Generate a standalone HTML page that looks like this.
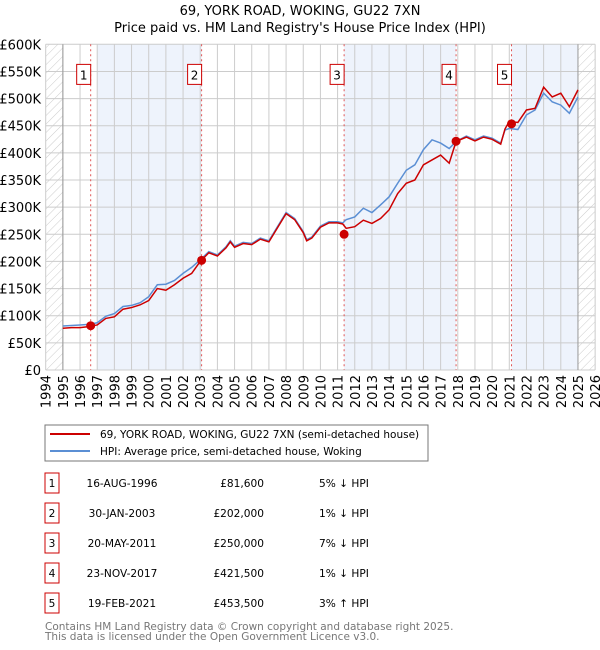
<!DOCTYPE html>
<html><head><meta charset="utf-8">
<style>
body{margin:0;background:#fff;}
svg{display:block;font-family:"DejaVu Sans","Liberation Sans",sans-serif;}
</style></head>
<body>
<svg id="chart" width="600" height="650" viewBox="0 0 600 650">
<defs>
<pattern id="hatch" patternUnits="userSpaceOnUse" width="6" height="6" patternTransform="rotate(45)">
<line x1="0" y1="0" x2="0" y2="6" stroke="#ccc" stroke-width="1"/>
</pattern>
</defs>
<text x="300" y="15" text-anchor="middle" font-size="13">69, YORK ROAD, WOKING, GU22 7XN</text>
<text x="300" y="32" text-anchor="middle" font-size="13">Price paid vs. HM Land Registry's House Price Index (HPI)</text>
<g id="plot"></g>
<rect x="45" y="425" width="383" height="36" fill="#fff" stroke="#777"/>
<line x1="50" y1="434" x2="90" y2="434" stroke="#cc0000" stroke-width="2"/>
<text x="100" y="438" font-size="10.5">69, YORK ROAD, WOKING, GU22 7XN (semi-detached house)</text>
<line x1="50" y1="451" x2="90" y2="451" stroke="#5b8fd4" stroke-width="2"/>
<text x="100" y="455" font-size="10.5">HPI: Average price, semi-detached house, Woking</text>
<g id="table" font-size="10.6"></g>
<text x="45" y="630" font-size="10.5" fill="#777">Contains HM Land Registry data © Crown copyright and database right 2025.</text>
<text x="45" y="640" font-size="10.5" fill="#777">This data is licensed under the Open Government Licence v3.0.</text>
</svg>
<script>
const years = [1995,1995.5,1996,1996.5,1997,1997.5,1998,1998.5,1999,1999.5,2000,2000.5,2001,2001.5,2002,2002.5,2003,2003.5,2004,2004.5,2004.75,2005,2005.5,2006,2006.5,2007,2007.5,2008,2008.5,2009,2009.2,2009.5,2010,2010.5,2011,2011.3,2011.5,2012,2012.5,2013,2013.5,2014,2014.5,2015,2015.5,2016,2016.5,2017,2017.5,2017.9,2018.5,2019,2019.5,2020,2020.5,2020.75,2021,2021.5,2022,2022.5,2023,2023.5,2024,2024.5,2025];
const hpiValues = [81,82,83,84,87,99,104,117,119,124,135,157,158,165,178,189,203,218,212,227,238,228,235,233,243,238,264,290,279,255,240,245,265,273,273,271,277,282,298,290,304,319,344,368,378,406,424,418,408,421,431,424,431,427,418,442,445,443,470,479,510,494,488,473,503];
const priceValues = [77,78,78,80,83,95,98,112,115,120,128,150,147,157,169,178,200,216,210,225,236,226,233,231,241,236,262,288,277,253,238,243,263,271,271,269,261,264,276,270,279,295,325,344,350,378,387,396,381,421,429,422,429,425,416,444,458,456,479,482,521,503,510,485,516];
const saleLabels = ["1","2","3","4","5"];
const saleYears = [1996.62,2003.08,2011.38,2017.9,2021.13];
const salePrices = [81.6,202,250,421.5,453.5];
const saleDates = ["16-AUG-1996","30-JAN-2003","20-MAY-2011","23-NOV-2017","19-FEB-2021"];
const salePriceText = ["£81,600","£202,000","£250,000","£421,500","£453,500"];
const saleHpiText = ["5% ↓ HPI","1% ↓ HPI","7% ↓ HPI","1% ↓ HPI","3% ↑ HPI"];
const yTicks = [0,50,100,150,200,250,300,350,400,450,500,550,600];
const yTickLabels = ["£0","£50K","£100K","£150K","£200K","£250K","£300K","£350K","£400K","£450K","£500K","£550K","£600K"];
const xTicks = [1994,1995,1996,1997,1998,1999,2000,2001,2002,2003,2004,2005,2006,2007,2008,2009,2010,2011,2012,2013,2014,2015,2016,2017,2018,2019,2020,2021,2022,2023,2024,2025,2026];

const NS="http://www.w3.org/2000/svg";
const X0=45.7, PX=17.17, Y0=370, PY=325.7/600;
const x = y => X0+(y-1994)*PX;
const y = v => Y0-v*PY;
const plot=document.getElementById('plot');
function mk(tag,attrs,parent){const e=document.createElementNS(NS,tag);for(const k in attrs)e.setAttribute(k,attrs[k]);(parent||plot).appendChild(e);return e;}

const shades=[[1997,2003.08],[2011.38,2017.9],[2021.13,2025]];
shades.forEach(s=>{const r=mk('rect',{x:x(s[0]),y:y(600),width:x(s[1])-x(s[0]),height:y(0)-y(600),fill:'#eef3fc'});

});
const h1=mk('rect',{x:x(1994),y:y(600),width:x(1995)-x(1994),height:y(0)-y(600),fill:'url(#hatch)'});


const h2=mk('rect',{x:x(2025),y:y(600),width:x(2026)-x(2025),height:y(0)-y(600),fill:'url(#hatch)'});



yTicks.forEach((t,i)=>{
 const l=mk('line',{x1:x(1994),x2:x(2026),y1:y(t),y2:y(t),stroke:'#ccc','stroke-width':1});
 
 
 const tx=mk('text',{x:41,y:y(t)+5,'text-anchor':'end','font-size':13});
 tx.textContent=yTickLabels[i];
 
 
});
xTicks.forEach(t=>{
 const l=mk('line',{x1:x(t),x2:x(t),y1:y(600),y2:y(0),stroke:'#ccc','stroke-width':1});
 
 
 const tx=mk('text',{x:0,y:0,'text-anchor':'end','font-size':13,transform:`translate(${x(t)+5},375) rotate(-90)`});
 tx.textContent=t;
 
 
});
const ax1=mk('line',{x1:x(1995),x2:x(1995),y1:y(600),y2:y(0),stroke:'#999'});


const ax2=mk('line',{x1:x(2025),x2:x(2025),y1:y(600),y2:y(0),stroke:'#999'});



saleYears.forEach((s,i)=>{
 const l=mk('line',{x1:x(s),x2:x(s),y1:y(600),y2:y(0),stroke:'#e05555','stroke-dasharray':'2,3','stroke-width':1});
 
 
 const b=mk('rect',{x:x(s)-14,y:y(563),width:14,height:20,fill:'#fff',stroke:'#cc0000'});
 
 
 const t=mk('text',{x:x(s)-7,y:y(563)+15,'text-anchor':'middle','font-size':12});
 t.textContent=saleLabels[i];
 
 
});

const hp=mk('polyline',{points:years.map((t,i)=>x(t)+','+y(hpiValues[i])).join(' '),fill:'none',stroke:'#5b8fd4','stroke-width':1.5});


const pp=mk('polyline',{points:years.map((t,i)=>x(t)+','+y(priceValues[i])).join(' '),fill:'none',stroke:'#cc0000','stroke-width':1.5});


saleYears.forEach((s,i)=>{
 const c=mk('circle',{cx:x(s),cy:y(salePrices[i]),r:4.5,fill:'#cc0000'});
 
 
});

const tbl=document.getElementById('table');
saleLabels.forEach((lab,i)=>{
 const cy=483+i*30;
 const b=mk('rect',{x:45,y:cy-10,width:14,height:20,fill:'#fff',stroke:'#cc0000'},tbl);
 
 
 const n=mk('text',{x:52,y:cy+4,'text-anchor':'middle'},tbl);n.textContent=lab;
 
 
 const d=mk('text',{x:122,y:cy+4,'text-anchor':'middle'},tbl);d.textContent=saleDates[i];
 
 
 const p=mk('text',{x:264,y:cy+4,'text-anchor':'end'},tbl);p.textContent=salePriceText[i];
 
 
 const h=mk('text',{x:319,y:cy+4},tbl);h.textContent=saleHpiText[i];
 
 
});
</script>
</body></html>
